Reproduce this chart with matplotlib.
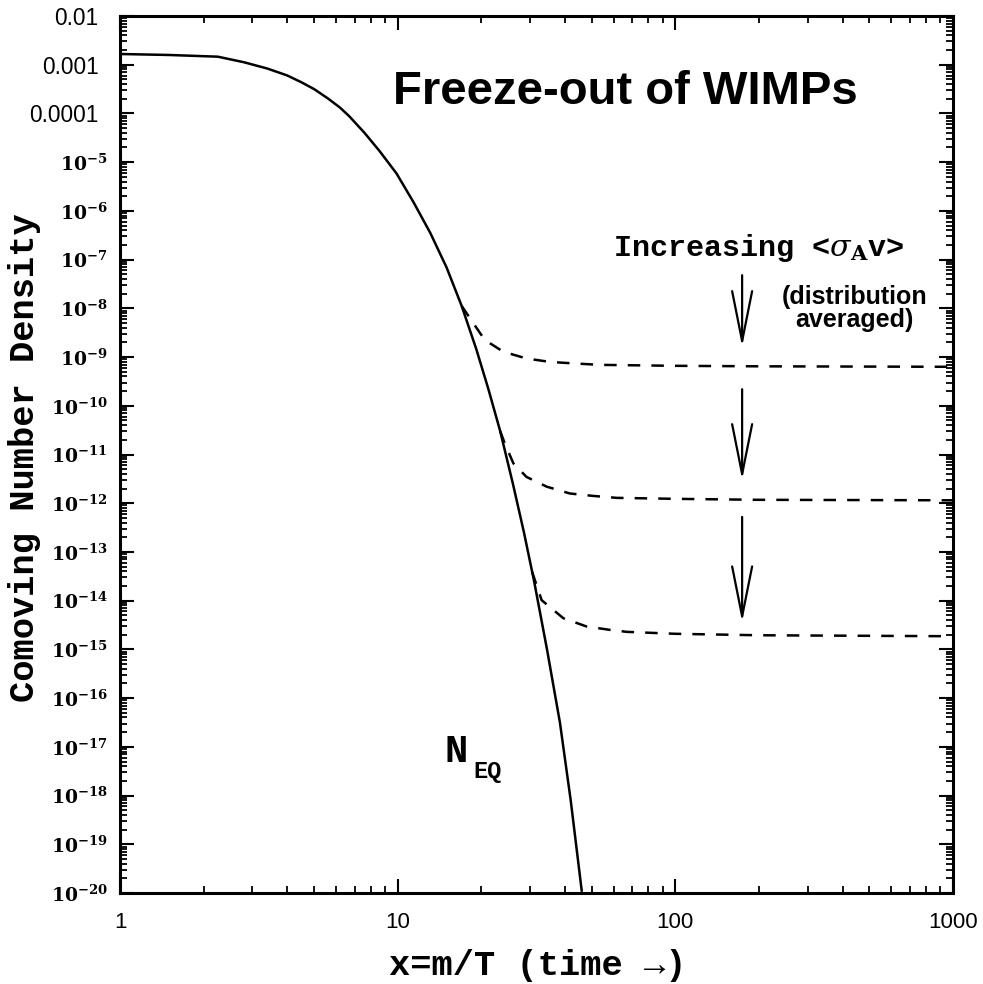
import numpy as np
import matplotlib
matplotlib.use('Agg')
import matplotlib.pyplot as plt
from matplotlib import rcParams
from matplotlib.ticker import FixedLocator, LogLocator, NullFormatter
from matplotlib.transforms import ScaledTranslation

rcParams['mathtext.fontset'] = 'custom'
rcParams['mathtext.rm'] = 'DejaVu Serif'
rcParams['mathtext.it'] = 'DejaVu Serif:italic'
rcParams['mathtext.bf'] = 'DejaVu Serif:bold'
rcParams['lines.scale_dashes'] = False

# equilibrium curve: x = m/T and log10 of the density
x_eq = [1.0, 1.5, 2.25, 2.8, 3.4, 4.0, 4.5, 5.0, 5.6, 6.2, 6.7, 7.6, 8.6, 9.9,
        11.4, 13.1, 15.0, 17.0, 19.2, 21.2, 23.4, 26.0, 28.5, 31.0, 34.5,
        38.4, 42.0, 46.0]
logn_eq = [-2.78, -2.80, -2.835, -2.95, -3.08, -3.22, -3.36, -3.50, -3.69,
           -3.88, -4.06, -4.40, -4.77, -5.23, -5.82, -6.45, -7.16, -7.95,
           -8.84, -9.65, -10.52, -11.6, -12.6, -13.6, -15.0, -16.5, -18.1,
           -19.95]

# freeze-out branches (dashed)
x_f1 = [17.0, 18.7, 20.6, 24.0, 29.1, 35.4, 42.9, 53.5, 100, 200, 1000]
logn_f1 = [-7.95, -8.30, -8.65, -8.89, -9.03, -9.10, -9.13, -9.16, -9.18,
           -9.19, -9.20]
x_f2 = [23.4, 24.3, 26.1, 29.1, 34.4, 41.7, 50.6, 61.5, 100, 200, 1000]
logn_f2 = [-10.52, -10.77, -11.18, -11.46, -11.66, -11.80, -11.85, -11.89,
           -11.91, -11.93, -11.94]
x_f3 = [30.5, 33.0, 39.5, 47.9, 58.2, 66.8, 100, 200, 1000]
logn_f3 = [-13.41, -13.99, -14.36, -14.53, -14.60, -14.64, -14.68, -14.71,
           -14.73]

# arrows: x position, log10 of tail and tip
arrow_x = 174
arrow_tail = [-7.32, -9.66, -12.28]
arrow_tip = [-8.79, -11.52, -14.44]

y_exps = list(range(-20, -1))
y_labels = []
for e in y_exps:
    if e == -2:
        y_labels.append('0.01')
    elif e == -3:
        y_labels.append('0.001')
    elif e == -4:
        y_labels.append('0.0001')
    else:
        y_labels.append(r'$\mathbf{10^{%d}}$' % e)
x_major = [1, 10, 100, 1000]
x_labels = ['1', '10', '100', '1000']

mono = ['Liberation Mono', 'DejaVu Sans']
sans = ['Liberation Sans', 'DejaVu Sans']

fig = plt.figure(figsize=(9.83, 9.84), dpi=100)
ax = fig.add_axes([120/983, 91/984, 833/983, 877/984])

ax.plot(x_eq, 10.0**np.array(logn_eq), color='black', lw=1.8)
for xs, ls in [(x_f1, logn_f1), (x_f2, logn_f2), (x_f3, logn_f3)]:
    ax.plot(xs, 10.0**np.array(ls), color='black', lw=1.8, dashes=(9, 8))

for t0, t1 in zip(arrow_tail, arrow_tip):
    ax.annotate('', xy=(arrow_x, 10.0**t1), xytext=(arrow_x, 10.0**t0),
                arrowprops=dict(arrowstyle='->,head_length=1.8,head_width=0.36',
                                lw=1.6, color='black', shrinkA=0, shrinkB=0,
                                mutation_scale=20))

ax.set_xscale('log')
ax.set_yscale('log')
ax.set_xlim(1, 1000)
ax.set_ylim(1e-20, 1e-2)

ax.yaxis.set_major_locator(FixedLocator([10.0**e for e in y_exps]))
ax.yaxis.set_minor_locator(LogLocator(base=10, subs=np.arange(2, 10), numticks=200))
ax.yaxis.set_minor_formatter(NullFormatter())
ax.set_yticklabels(y_labels)
ax.xaxis.set_major_locator(FixedLocator(x_major))
ax.xaxis.set_minor_locator(LogLocator(base=10, subs=np.arange(2, 10), numticks=50))
ax.xaxis.set_minor_formatter(NullFormatter())
ax.set_xticklabels(x_labels)

ax.tick_params(which='both', direction='in', top=True, right=True, color='black')
ax.tick_params(which='major', length=10, width=1.5)
ax.tick_params(which='minor', length=5, width=1.3)
ax.tick_params(axis='y', pad=9)
ax.tick_params(axis='x', pad=14)
for s in ax.spines.values():
    s.set_linewidth(2.2)

for lbl in ax.get_xticklabels():
    lbl.set_fontfamily(sans)
    lbl.set_fontsize(16)
shift = ScaledTranslation(-9/100, 0, fig.dpi_scale_trans)
for lbl in ax.get_yticklabels():
    if lbl.get_text().startswith('$'):
        lbl.set_fontsize(13.5)
    else:
        lbl.set_fontfamily(sans)
        lbl.set_fontsize(16.3)
        lbl.set_transform(lbl.get_transform() + shift)

fig.text(538/983, 1 - 965/984, 'x=m/T (time \u2192)', family=mono, fontsize=25.5,
         fontweight='bold', ha='center', va='center')
fig.text(25/983, 1 - 458/984, 'Comoving Number Density', family=mono, fontsize=25.5,
         fontweight='bold', ha='center', va='center', rotation=90)

ax.text(0.607, 0.913, 'Freeze-out of WIMPs', transform=ax.transAxes,
        family=sans, fontsize=34, fontweight='bold', ha='center', va='center')
ax.text(0.592, 0.735, r'Increasing <$\sigma_{\mathbf{A}}$v>', transform=ax.transAxes,
        family=mono, fontsize=21.7, fontweight='bold', ha='left', va='center')
ax.text(0.882, 0.666, '(distribution\naveraged)', transform=ax.transAxes,
        family=sans, fontsize=18, fontweight='bold', ha='center', va='center',
        linespacing=0.95)
ax.text(16.2, 10.0**-17.1, 'N', family=mono, fontsize=28, fontweight='bold',
        ha='center', va='center')
ax.text(21.1, 10.0**-17.5, 'EQ', family=mono, fontsize=17, fontweight='bold',
        ha='center', va='center')

fig.savefig('out.png', dpi=100)
